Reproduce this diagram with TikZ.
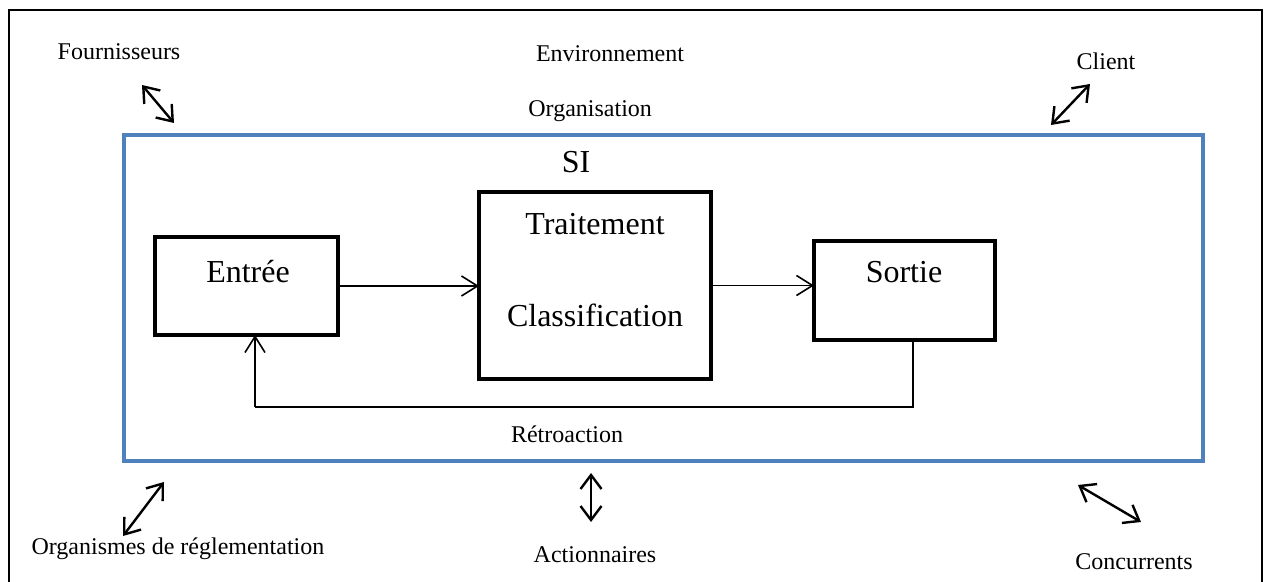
\documentclass[tikz,border=0pt]{standalone}
\usepackage{fontspec}
\setmainfont{Liberation Serif}
\usetikzlibrary{arrows.meta}
\begin{document}
\begin{tikzpicture}[x=0.5pt,y=-0.5pt,
  lbl/.style={font=\fontsize{12}{14}\selectfont, inner sep=0pt, anchor=base},
  big/.style={font=\fontsize{16}{19}\selectfont, inner sep=0pt, anchor=base},
  box/.style={draw=black, line width=2.25pt, inner sep=0pt, outer sep=0pt},
  conn/.style={draw=black, line width=0.75pt},
  flow/.style={conn, -{Straight Barb[length=8pt,width=10pt,line width=0.8pt]}},
  link/.style={draw=black, line width=1.2pt,
    {Straight Barb[length=7pt,width=10.5pt,line width=1.2pt]}-{Straight Barb[length=7pt,width=10.5pt,line width=1.2pt]}}
]
% canvas
\useasboundingbox (0,0) rectangle (1270,582);
\fill[white] (0,0) rectangle (1270,582);
\draw[line width=1pt] (9,590) -- (9,10) -- (1262,10) -- (1262,590);

% system boundary
\node[draw={rgb,255:red,79;green,129;blue,189}, line width=2pt, inner sep=0pt, outer sep=0pt,
      minimum width=539.5pt, minimum height=163pt] (si) at (663.5,298) {};

% environment labels
\node[lbl] (four) at (119,60) {Fournisseurs};
\node[lbl] (env) at (610,62) {Environnement};
\node[lbl, anchor=base west] (org) at (528,117) {Organisation};
\node[lbl] (cli) at (1106,70) {Client};
\node[lbl] (regl) at (178,555) {Organismes de réglementation};
\node[lbl] (act) at (595,563) {Actionnaires};
\node[lbl] (conc) at (1134,570) {Concurrents};
\node[big] (silbl) at (576,173) {SI};

% processing chain
\node[box, minimum width=91.5pt, minimum height=49pt] (entree) at (246.5,286) {};
\node[box, minimum width=116pt, minimum height=93.5pt] (trait) at (595,285.5) {};
\node[box, minimum width=90.5pt, minimum height=49.5pt] (sortie) at (904.5,290.5) {};

\node[big] (tEntree) at (248,283) {Entrée};
\node[big] (tTrait) at (595,235) {Traitement};
\node[big] (tClass) at (595,327) {Classification};
\node[big] (tSortie) at (904,283) {Sortie};
\node[lbl] (retro) at (567,443) {Rétroaction};

\draw[flow] (entree.east) -- (entree.east -| trait.west);
\draw[flow] (trait.east) -- (trait.east -| sortie.west);

% feedback loop
\coordinate (fbR) at (913,407);
\coordinate (fbL) at (255,407);
\draw[conn] (sortie.south -| fbR) -- (fbR) -- (fbL);
\draw[flow] (fbL) -- (entree.south -| fbL);

% exchanges with the environment
\coordinate (fA) at (142,85);  \coordinate (fB) at (174,123);
\coordinate (cA) at (1090,84); \coordinate (cB) at (1051,125);
\coordinate (rA) at (164,482); \coordinate (rB) at (123,536);
\coordinate (aA) at (591,473); \coordinate (aB) at (591,522);
\coordinate (kA) at (1078,485); \coordinate (kB) at (1141,522);
\draw[link] (fA) -- (fB);
\draw[link] (cA) -- (cB);
\draw[link] (rA) -- (rB);
\draw[link] (aA) -- (aB);
\draw[link] (kA) -- (kB);
\end{tikzpicture}
\end{document}
